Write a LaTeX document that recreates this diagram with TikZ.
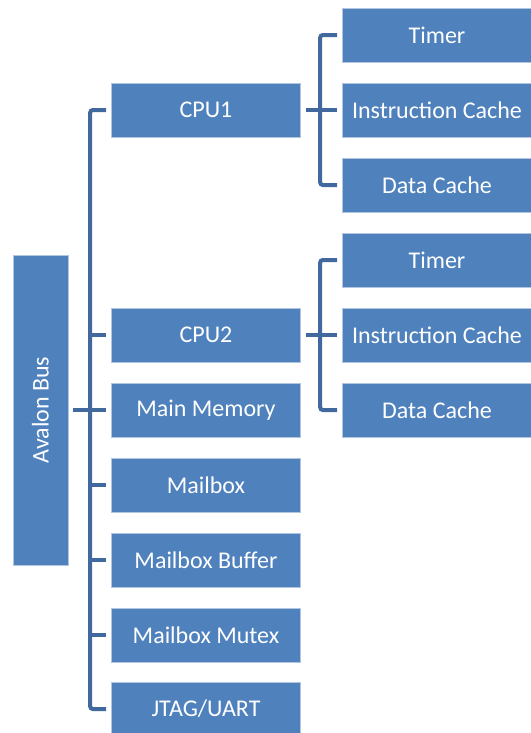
\documentclass[tikz,border=0pt]{standalone}
\usepackage{fontspec}
\setmainfont{Carlito}

\definecolor{boxblue}{HTML}{4F81BD}
\definecolor{linkblue}{HTML}{41699D}

\begin{document}
\begin{tikzpicture}[x=0.75pt,y=-0.75pt]

\tikzset{Box/.style  = {rectangle, fill=boxblue, draw=boxblue!45!white,
                        line width=0.5pt, inner sep=0pt, text=white,
                        minimum width=141.75pt, minimum height=40.5pt,
                        font=\fontsize{18pt}{21pt}\selectfont},
         BusBox/.style = {Box, rotate=90, minimum width=232.5pt,
                        minimum height=41.25pt},
         Link/.style = {draw=linkblue, line width=3pt, rounded corners=2pt}}

\useasboundingbox (0,0) rectangle (531,733);

%%% bus --> 7 units, each CPU --> timer + 2 caches

   \node[BusBox] (bus)  at (40.5,410) {Avalon Bus};

   \node[Box] (cpuA) at (206,110) {CPU1};
   \node[Box] (cpuB) at (206,335) {CPU2};
   \node[Box] (mem)  at (206,410) {Main Memory};
   \node[Box] (mbox) at (206,485) {Mailbox};
   \node[Box] (mbuf) at (206,560) {Mailbox Buffer};
   \node[Box] (mmtx) at (206,635) {Mailbox Mutex};
   \node[Box] (jtag) at (206,709) {JTAG/UART};

   \node[Box] (tmrA) at (437,35)  {Timer};
   \node[Box] (icA)  at (437,110) {Instruction Cache};
   \node[Box] (dcA)  at (437,185) {Data Cache};

   \node[Box] (tmrB) at (437,260) {Timer};
   \node[Box] (icB)  at (437,335) {Instruction Cache};
   \node[Box] (dcB)  at (437,410) {Data Cache};

%%% bus tree
  \draw[Link] ([xshift=-3.75pt]cpuA.west) -| ([xshift=-15.75pt]jtag.west)
              -- ([xshift=-3.75pt]jtag.west);
  \foreach \n in {cpuB,mem,mbox,mbuf,mmtx}
     \draw[Link] ([xshift=-3.75pt]\n.west) -- ([xshift=-15.75pt]\n.west);
  \draw[Link] ([xshift=3.75pt]bus.south) -- ([xshift=-15.75pt]mem.west);

%%% cpu trees
  \foreach \c/\t/\i/\d in {cpuA/tmrA/icA/dcA, cpuB/tmrB/icB/dcB}{
     \draw[Link] ([xshift=-3.75pt]\t.west) -| ([xshift=-16.5pt]\d.west)
                 -- ([xshift=-3.75pt]\d.west);
     \draw[Link] ([xshift=3.75pt]\c.east) -- ([xshift=-3.75pt]\i.west);
  }

\end{tikzpicture}
\end{document}
